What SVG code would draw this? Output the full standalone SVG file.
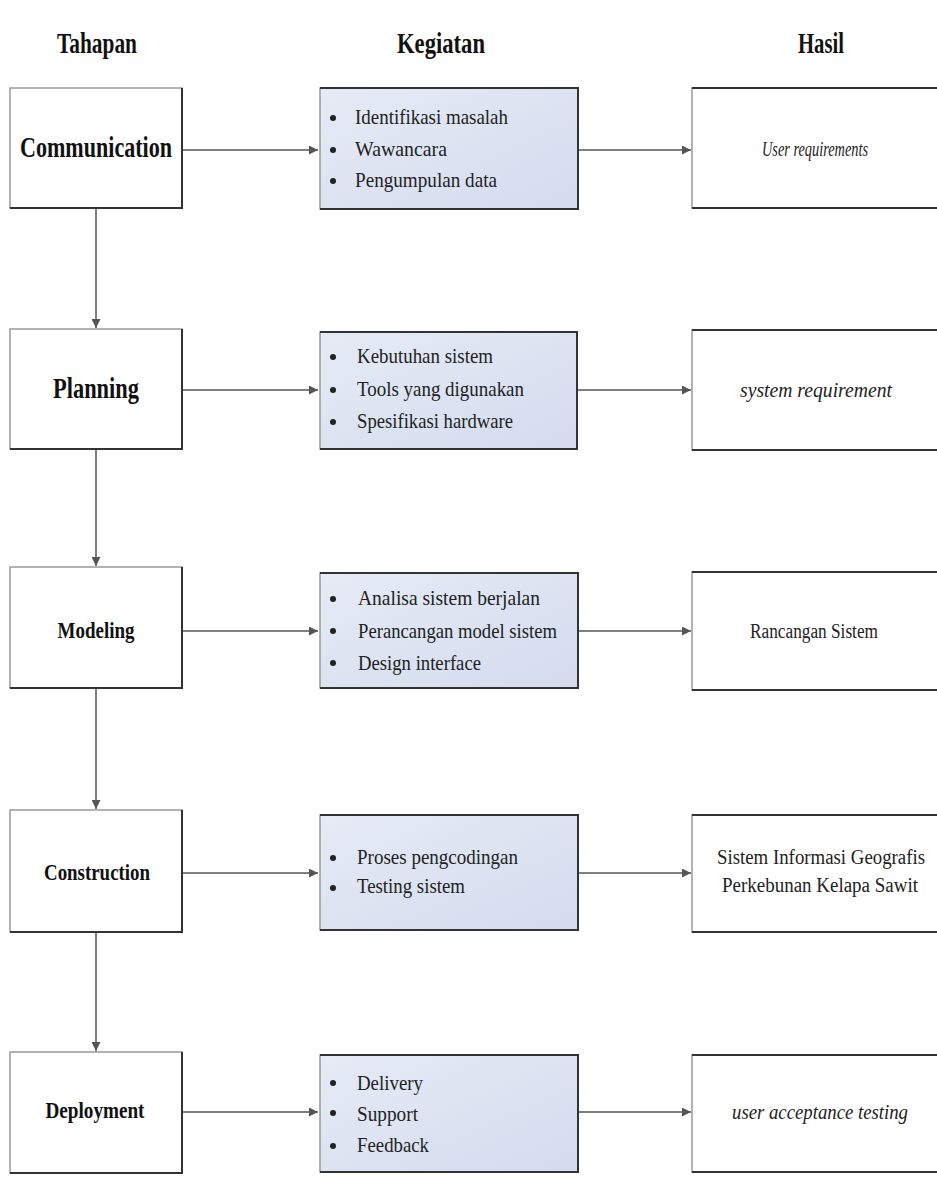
<svg xmlns="http://www.w3.org/2000/svg" width="937" height="1178" viewBox="0 0 937 1178">
<defs>
<marker id="ah" viewBox="0 0 10 10" refX="10" refY="5" markerWidth="9" markerHeight="9" markerUnits="userSpaceOnUse" orient="auto"><path d="M0,0 L10,5 L0,10 z" fill="#555"/></marker>
<linearGradient id="mg" x1="0" y1="0" x2="1" y2="1"><stop offset="0" stop-color="#e6ebf5"/><stop offset="1" stop-color="#d3dbee"/></linearGradient>
</defs>
<style>
.hd{font-family:"Liberation Serif",serif;font-weight:bold;font-size:30px;fill:#111;text-anchor:middle}
.lt{font-family:"Liberation Serif",serif;font-weight:bold;fill:#111;text-anchor:middle}
.mt{font-family:"Liberation Serif",serif;font-size:21px;fill:#222}
.rt{font-family:"Liberation Serif",serif;font-size:20px;fill:#222;text-anchor:middle}
.it{font-style:italic}
.box{fill:#fff;stroke:#999;stroke-width:1.5}
.mbox{fill:url(#mg);stroke:#999;stroke-width:1.5}
.sh{fill:none;stroke:#333;stroke-width:2}
.con{stroke:#555;stroke-width:1.5;fill:none;marker-end:url(#ah)}
.bul{fill:#222}
</style>
<rect width="937" height="1178" fill="#fff"/>
<g id="headers">
<text class="hd" x="97" y="53" textLength="80" lengthAdjust="spacingAndGlyphs">Tahapan</text>
<text class="hd" x="441" y="53" textLength="88" lengthAdjust="spacingAndGlyphs">Kegiatan</text>
<text class="hd" x="821" y="53" textLength="46" lengthAdjust="spacingAndGlyphs">Hasil</text>
</g>
<g id="connectors">
<line class="con" x1="182" y1="150" x2="318" y2="150"/>
<line class="con" x1="578" y1="150" x2="691" y2="150"/>
<line class="con" x1="182" y1="390" x2="318" y2="390"/>
<line class="con" x1="578" y1="390" x2="691" y2="390"/>
<line class="con" x1="182" y1="631" x2="318" y2="631"/>
<line class="con" x1="578" y1="631" x2="691" y2="631"/>
<line class="con" x1="182" y1="873" x2="318" y2="873"/>
<line class="con" x1="578" y1="873" x2="691" y2="873"/>
<line class="con" x1="182" y1="1112" x2="318" y2="1112"/>
<line class="con" x1="578" y1="1112" x2="691" y2="1112"/>
<line class="con" x1="96" y1="208" x2="96" y2="328"/>
<line class="con" x1="96" y1="449" x2="96" y2="566"/>
<line class="con" x1="96" y1="688" x2="96" y2="809"/>
<line class="con" x1="96" y1="932" x2="96" y2="1051"/>
</g>
<g id="communication">
<rect class="box" x="10" y="88" width="172" height="120"/>
<polyline class="sh" points="10,208 182,208 182,88"/>
<text class="lt" x="96" y="157" font-size="30" textLength="152" lengthAdjust="spacingAndGlyphs">Communication</text>
</g>
<g id="planning">
<rect class="box" x="10" y="329" width="172" height="120"/>
<polyline class="sh" points="10,449 182,449 182,329"/>
<text class="lt" x="96" y="398" font-size="30" textLength="86" lengthAdjust="spacingAndGlyphs">Planning</text>
</g>
<g id="modeling">
<rect class="box" x="10" y="567" width="172" height="121"/>
<polyline class="sh" points="10,688 182,688 182,567"/>
<text class="lt" x="96" y="638" font-size="24" textLength="77" lengthAdjust="spacingAndGlyphs">Modeling</text>
</g>
<g id="construction">
<rect class="box" x="10" y="810" width="172" height="122"/>
<polyline class="sh" points="10,932 182,932 182,810"/>
<text class="lt" x="97" y="880" font-size="24" textLength="106" lengthAdjust="spacingAndGlyphs">Construction</text>
</g>
<g id="deployment">
<rect class="box" x="10" y="1052" width="172" height="121"/>
<polyline class="sh" points="10,1173 182,1173 182,1052"/>
<text class="lt" x="95" y="1118" font-size="24" textLength="99" lengthAdjust="spacingAndGlyphs">Deployment</text>
</g>
<g id="kegiatan-communication">
<rect class="mbox" x="320" y="88" width="258" height="121"/>
<polyline class="sh" points="320,209 578,209 578,88 320,88"/>
<circle class="bul" cx="333" cy="118" r="3"/><circle class="bul" cx="333" cy="150" r="3"/><circle class="bul" cx="333" cy="181" r="3"/>
<text class="mt" x="355" y="124" textLength="153" lengthAdjust="spacingAndGlyphs">Identifikasi masalah</text>
<text class="mt" x="355" y="156" textLength="92" lengthAdjust="spacingAndGlyphs">Wawancara</text>
<text class="mt" x="355" y="187" textLength="142" lengthAdjust="spacingAndGlyphs">Pengumpulan data</text>
</g>
<g id="kegiatan-planning">
<rect class="mbox" x="320" y="332" width="257" height="117"/>
<polyline class="sh" points="320,449 577,449 577,332 320,332"/>
<circle class="bul" cx="333" cy="357" r="3"/><circle class="bul" cx="333" cy="390" r="3"/><circle class="bul" cx="333" cy="422" r="3"/>
<text class="mt" x="357" y="363" textLength="136" lengthAdjust="spacingAndGlyphs">Kebutuhan sistem</text>
<text class="mt" x="357" y="396" textLength="167" lengthAdjust="spacingAndGlyphs">Tools yang digunakan</text>
<text class="mt" x="357" y="428" textLength="156" lengthAdjust="spacingAndGlyphs">Spesifikasi hardware</text>
</g>
<g id="kegiatan-modeling">
<rect class="mbox" x="320" y="573" width="258" height="115"/>
<polyline class="sh" points="320,688 578,688 578,573 320,573"/>
<circle class="bul" cx="333" cy="599" r="3"/><circle class="bul" cx="333" cy="631" r="3"/><circle class="bul" cx="333" cy="663" r="3"/>
<text class="mt" x="358" y="605" textLength="182" lengthAdjust="spacingAndGlyphs">Analisa sistem berjalan</text>
<text class="mt" x="358" y="638" textLength="199" lengthAdjust="spacingAndGlyphs">Perancangan model sistem</text>
<text class="mt" x="358" y="670" textLength="123" lengthAdjust="spacingAndGlyphs">Design interface</text>
</g>
<g id="kegiatan-construction">
<rect class="mbox" x="320" y="815" width="258" height="115"/>
<polyline class="sh" points="320,930 578,930 578,815 320,815"/>
<circle class="bul" cx="333" cy="858" r="3"/><circle class="bul" cx="333" cy="888" r="3"/>
<text class="mt" x="357" y="864" textLength="161" lengthAdjust="spacingAndGlyphs">Proses pengcodingan</text>
<text class="mt" x="357" y="893" textLength="108" lengthAdjust="spacingAndGlyphs">Testing sistem</text>
</g>
<g id="kegiatan-deployment">
<rect class="mbox" x="320" y="1055" width="258" height="117"/>
<polyline class="sh" points="320,1172 578,1172 578,1055 320,1055"/>
<circle class="bul" cx="333" cy="1083" r="3"/><circle class="bul" cx="333" cy="1113" r="3"/><circle class="bul" cx="333" cy="1146" r="3"/>
<text class="mt" x="357" y="1090" textLength="66" lengthAdjust="spacingAndGlyphs">Delivery</text>
<text class="mt" x="357" y="1121" textLength="61" lengthAdjust="spacingAndGlyphs">Support</text>
<text class="mt" x="357" y="1152" textLength="72" lengthAdjust="spacingAndGlyphs">Feedback</text>
</g>
<g id="hasil-communication">
<rect class="box" x="692" y="88" width="250" height="120"/>
<polyline class="sh" points="692,208 942,208"/>
<polyline class="sh" points="692,88 942,88"/>
<text class="rt it" x="815" y="156" textLength="106" lengthAdjust="spacingAndGlyphs">User requirements</text>
</g>
<g id="hasil-planning">
<rect class="box" x="692" y="330" width="250" height="120"/>
<polyline class="sh" points="692,450 942,450"/>
<polyline class="sh" points="692,330 942,330"/>
<text class="rt it" x="816" y="397" textLength="152" lengthAdjust="spacingAndGlyphs">system requirement</text>
</g>
<g id="hasil-modeling">
<rect class="box" x="692" y="572" width="250" height="118"/>
<polyline class="sh" points="692,690 942,690"/>
<polyline class="sh" points="692,572 942,572"/>
<text class="rt" x="814" y="638" textLength="128" lengthAdjust="spacingAndGlyphs">Rancangan Sistem</text>
</g>
<g id="hasil-construction">
<rect class="box" x="692" y="815" width="250" height="117"/>
<polyline class="sh" points="692,932 942,932"/>
<polyline class="sh" points="692,815 942,815"/>
<text class="rt" x="821" y="864" textLength="208" lengthAdjust="spacingAndGlyphs">Sistem Informasi Geografis</text>
<text class="rt" x="820" y="892" textLength="196" lengthAdjust="spacingAndGlyphs">Perkebunan Kelapa Sawit</text>
</g>
<g id="hasil-deployment">
<rect class="box" x="692" y="1055" width="250" height="117"/>
<polyline class="sh" points="692,1172 942,1172"/>
<polyline class="sh" points="692,1055 942,1055"/>
<text class="rt it" x="820" y="1119" textLength="176" lengthAdjust="spacingAndGlyphs">user acceptance testing</text>
</g>
</svg>
